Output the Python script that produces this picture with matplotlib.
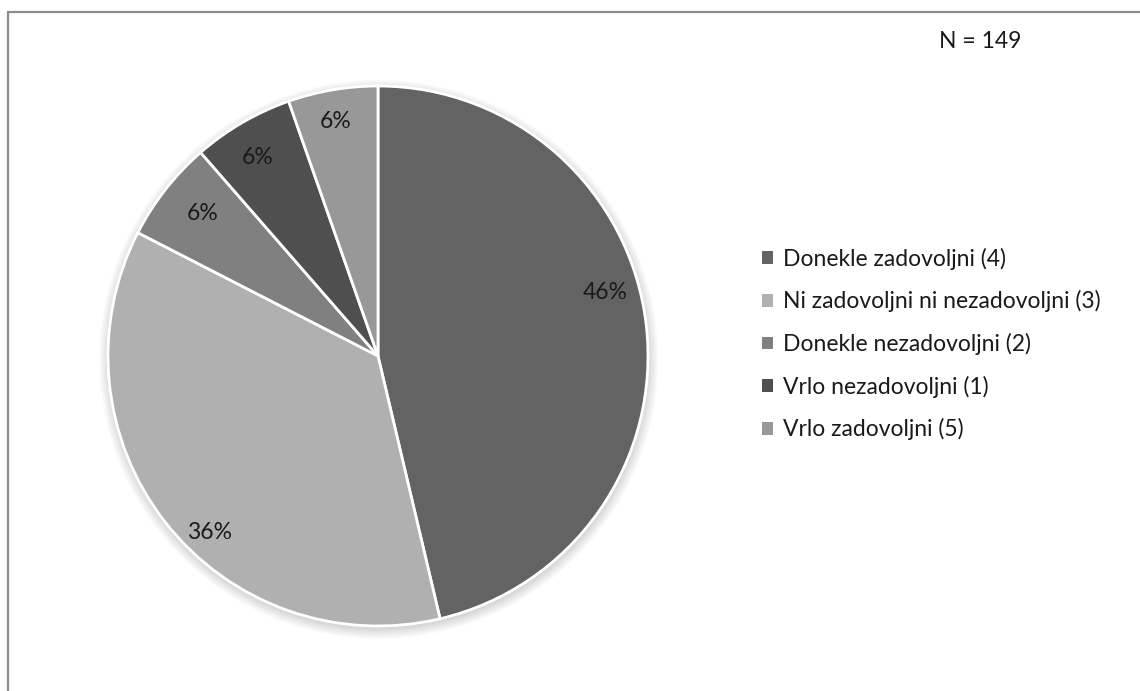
import matplotlib
matplotlib.use("Agg")
import matplotlib.pyplot as plt
from matplotlib.patches import Rectangle, Patch, Circle

categories = ["Donekle zadovoljni (4)", "Ni zadovoljni ni nezadovoljni (3)",
              "Donekle nezadovoljni (2)", "Vrlo nezadovoljni (1)", "Vrlo zadovoljni (5)"]
counts = [69, 54, 9, 9, 8]
pct_labels = ["46%", "36%", "6%", "6%", "6%"]
colors = ["#636363", "#b0b0b0", "#808080", "#4f4f4f", "#989898"]
n_label = "N = 149"

plt.rcParams['font.family'] = ['Lato', 'DejaVu Sans']
FS = 16.5
TXT = "#1a1a1a"

W, H = 1140, 691
fig = plt.figure(figsize=(W / 100, H / 100), dpi=100)
fig.patch.set_facecolor("white")

# outer border
fig.patches.append(Rectangle((8 / W, -0.01), 1.2, (H - 12) / H + 0.01, transform=fig.transFigure,
                             fill=False, edgecolor="#8c8c8c", linewidth=1.6))

cx, cy, r = 378, 356, 270
ax = fig.add_axes([(cx - r) / W, (H - cy - r) / H, 2 * r / W, 2 * r / H])

# soft shadow
for k in range(8):
    ax.add_patch(Circle((0.003, -0.012), 1.0 + 0.005 * k, facecolor="black",
                        edgecolor="none", alpha=0.018, zorder=0, clip_on=False))

wedges, texts = ax.pie(counts, colors=colors, startangle=90, counterclock=False,
                       wedgeprops=dict(edgecolor="white", linewidth=2, zorder=2))
label_pos = [(0.84, 0.237), (-0.625, -0.655), (-0.648, 0.526), (-0.444, 0.737), (-0.156, 0.867)]
for lab, pos in zip(pct_labels, label_pos):
    ax.text(pos[0], pos[1], lab, ha="center", va="center", fontsize=FS, color=TXT, zorder=3)

ax.set_xlim(-1, 1)
ax.set_ylim(-1, 1)
ax.set_aspect("equal")
ax.axis("off")

fig.legend(handles=[Patch(facecolor=c, edgecolor="none") for c in colors], labels=categories,
           loc="center left", bbox_to_anchor=(753 / W, (H - 344) / H), frameon=False,
           fontsize=FS, handlelength=0.48, handleheight=0.48, handletextpad=0.44,
           labelspacing=0.9, borderaxespad=0, labelcolor=TXT)

fig.text(980 / W, (H - 42) / H, n_label, ha="center", va="center", fontsize=FS, color=TXT)

fig.savefig("out.png", dpi=100, facecolor="white")
